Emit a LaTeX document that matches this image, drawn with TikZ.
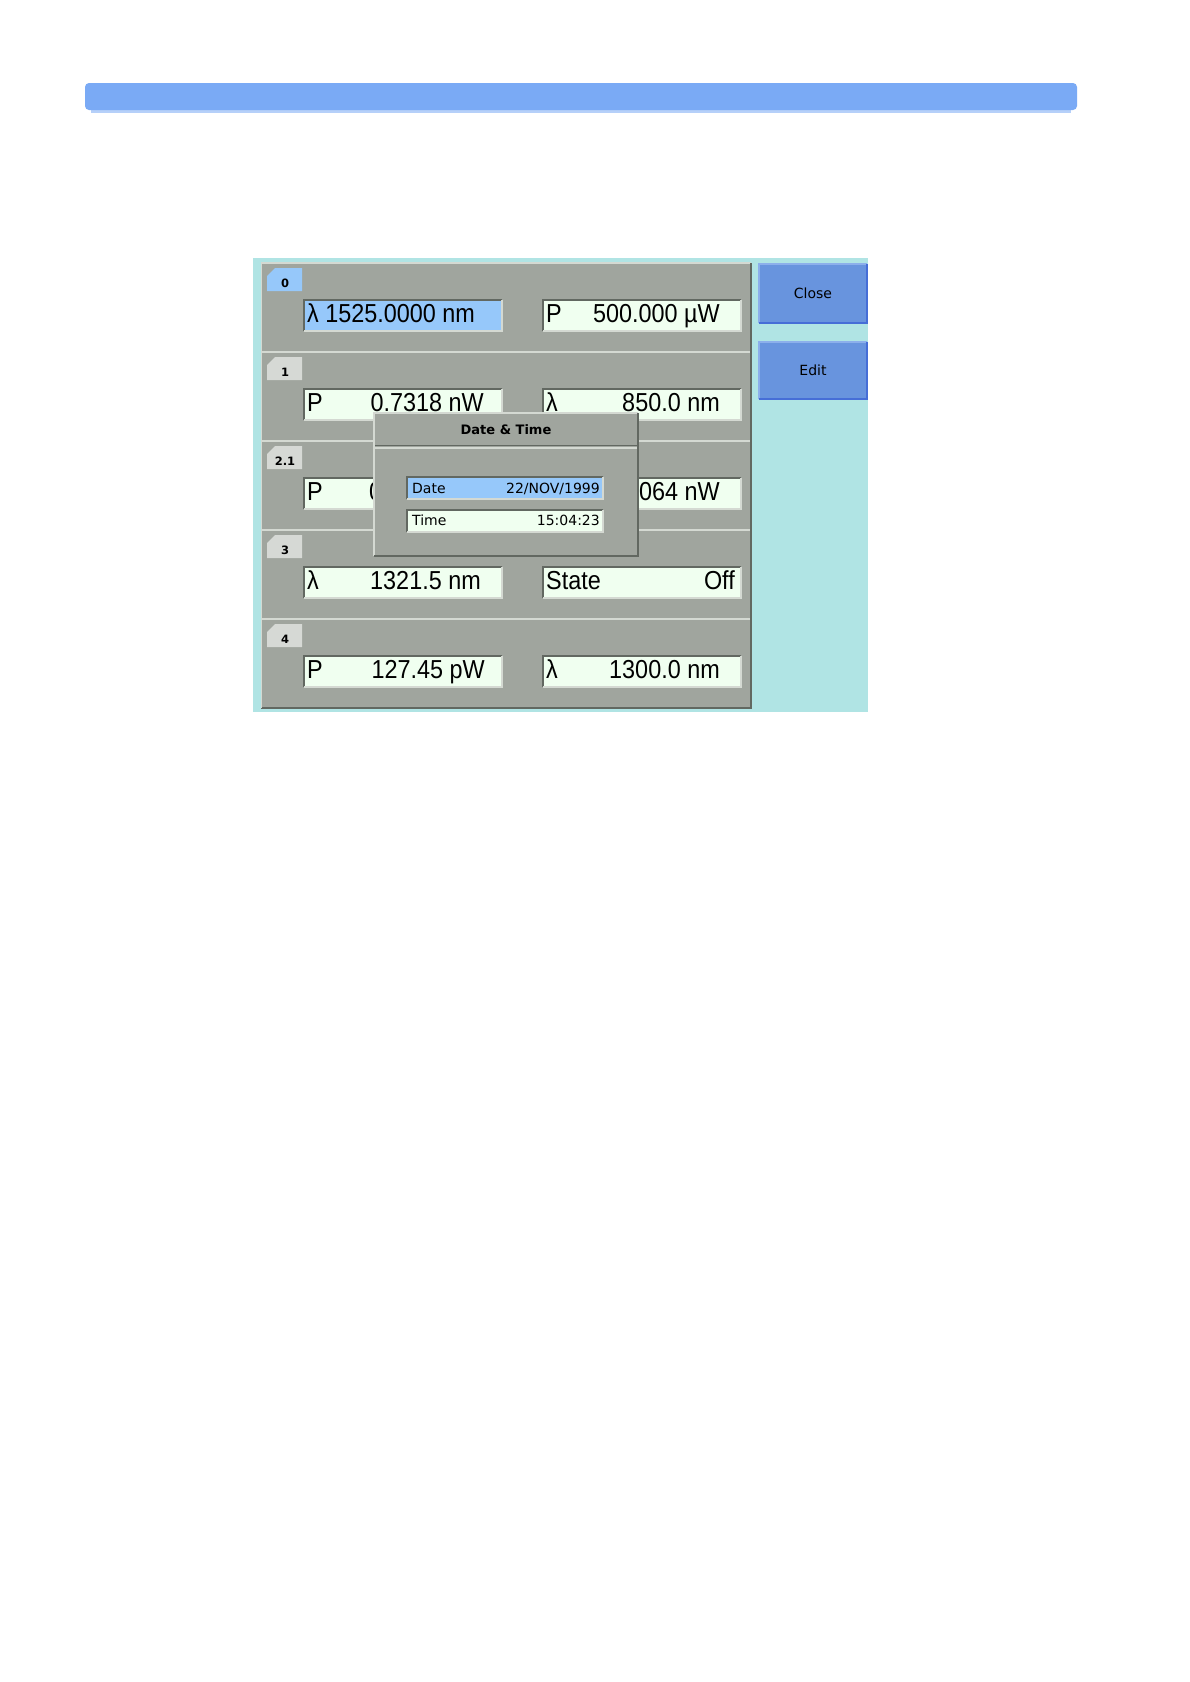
\documentclass[tikz,border=0pt]{standalone}
\usepackage{fontspec}
\setmainfont{Liberation Sans}
\newfontfamily\bigf[FakeStretch=0.9]{Liberation Sans}
\newfontfamily\uif{DejaVu Sans}
\definecolor{topbar}{RGB}{122,170,245}
\definecolor{cyanbg}{RGB}{176,228,228}
\definecolor{panelgray}{RGB}{160,165,158}
\definecolor{fieldfill}{RGB}{240,255,240}
\definecolor{hilite}{RGB}{150,200,250}
\definecolor{tabgray}{RGB}{214,217,213}
\definecolor{btnfill}{RGB}{104,148,222}
\definecolor{btnedge}{RGB}{70,110,215}
\definecolor{btnlight}{RGB}{140,175,235}
\definecolor{darkline}{RGB}{98,104,97}
\definecolor{lightline}{RGB}{212,217,210}
\tikzset{
  box/.style={inner sep=0pt, outer sep=0pt, anchor=north west},
  bevdark/.style={darkline, line width=1.6pt},
  bevlight/.style={lightline, line width=1.6pt},
  bigtxt/.style={inner sep=0pt, font=\bigf\fontsize{26}{26}\selectfont},
  tabtxt/.style={inner sep=0pt, font=\uif\bfseries\fontsize{11.5}{11.5}\selectfont},
  smalltxt/.style={inner sep=0pt, font=\uif\fontsize{14}{14}\selectfont},
  titletxt/.style={inner sep=0pt, font=\uif\bfseries\fontsize{13}{13}\selectfont},
  btntxt/.style={inner sep=0pt, font=\uif\fontsize{14}{14}\selectfont},
}
% field: name, x, y, width, height, fill
\newcommand\mkfield[6]{%
  \node[box, fill=#6, minimum width=#4pt, minimum height=#5pt] (#1) at (#2,#3) {};
  \draw[bevdark] (#1.south west) -- (#1.north west) -- (#1.north east);
  \draw[bevlight] (#1.north east) -- (#1.south east) -- (#1.south west);
}
% row band: name, top y, tab fill
\newcommand\mkrow[3]{%
  \node[box, fill=panelgray, minimum width=490pt, minimum height=89pt] (#1) at (261,#2) {};
  \draw[lightline, line width=1.5pt] (#1.north west) -- (#1.north east);
  \draw[darkline, line width=1.5pt] (#1.south west) -- (#1.south east);
  \fill[#3] (267,#2+13) -- (275,#2+5) -- (302,#2+5) -- (302,#2+28) -- (267,#2+28) -- cycle;
  \mkfield{#1L}{304}{#2+37}{198}{31}{fieldfill}
  \mkfield{#1R}{543}{#2+37}{198}{31}{fieldfill}
}
\begin{document}
\begin{tikzpicture}[x=1pt,y=-1pt]
\useasboundingbox[fill=white] (0,0) rectangle (1190,1682);
% top bar
\fill[topbar!55] (91,108) rectangle (1071,113);
\node[box, fill=topbar, rounded corners=4pt, minimum width=992pt, minimum height=27pt] (bar) at (85,83) {};
% background
\node[box, fill=cyanbg, minimum width=615pt, minimum height=454pt] (bg) at (253,258) {};
% rows
\mkrow{r0}{263}{hilite}
\mkrow{r1}{352}{tabgray}
\mkrow{r2}{441}{tabgray}
\mkrow{r3}{530}{tabgray}
\mkrow{r4}{619}{tabgray}
% highlighted field of row 0
\mkfield{r0L}{304}{300}{198}{31}{hilite}
% panel border
\draw[darkline, line width=2pt] (r0.north east) -- (r4.south east) -- (r4.south west);
\draw[lightline, line width=1pt] (r0.north west) -- (r4.south west);
% tab labels
\node[tabtxt, anchor=base] (t0) at (285,287) {0};
\node[tabtxt, anchor=base] (t1) at (285,376) {1};
\node[tabtxt, anchor=base] (t2) at (285,465) {2.1};
\node[tabtxt, anchor=base] (t3) at (285,554) {3};
\node[tabtxt, anchor=base] (t4) at (285,643) {4};
% row 0
\node[bigtxt, anchor=base west] (v0L) at (307,322) {λ 1525.0000 nm};
\node[bigtxt, anchor=base west] (l0R) at (546,322) {P};
\node[bigtxt, anchor=base east] (v0R) at (720,322) {500.000 µW};
% row 1
\node[bigtxt, anchor=base west] (l1L) at (307,411) {P};
\node[bigtxt, anchor=base east] (v1L) at (484,411) {0.7318 nW};
\node[bigtxt, anchor=base west] (l1R) at (546,411) {λ};
\node[bigtxt, anchor=base east] (v1R) at (720,411) {850.0 nm};
% row 2.1
\node[bigtxt, anchor=base west] (l2L) at (307,500) {P};
\node[bigtxt, anchor=base west] (v2L) at (369,500) {0};
\node[bigtxt, anchor=base east] (v2R) at (720,500) {064 nW};
% row 3
\node[bigtxt, anchor=base west] (l3L) at (307,589) {λ};
\node[bigtxt, anchor=base east] (v3L) at (481,589) {1321.5 nm};
\node[bigtxt, anchor=base west] (l3R) at (546,589) {State};
\node[bigtxt, anchor=base east] (v3R) at (735,589) {Off};
% row 4
\node[bigtxt, anchor=base west] (l4L) at (307,678) {P};
\node[bigtxt, anchor=base east] (v4L) at (485,678) {127.45 pW};
\node[bigtxt, anchor=base west] (l4R) at (546,678) {λ};
\node[bigtxt, anchor=base east] (v4R) at (720,678) {1300.0 nm};
% buttons
\node[box, fill=btnfill, minimum width=108pt, minimum height=59pt] (close) at (759,264) {};
\draw[btnlight, line width=1.5pt] (close.south west) -- (close.north west) -- (close.north east);
\draw[btnedge, line width=2pt] (close.north east) -- (close.south east) -- (close.south west);
\node[btntxt, anchor=base] (closet) at (813,298) {Close};
\node[box, fill=btnfill, minimum width=108pt, minimum height=57pt] (edit) at (759,342) {};
\draw[btnlight, line width=1.5pt] (edit.south west) -- (edit.north west) -- (edit.north east);
\draw[btnedge, line width=2pt] (edit.north east) -- (edit.south east) -- (edit.south west);
\node[btntxt, anchor=base] (editt) at (813,375) {Edit};
% dialog
\node[box, fill=panelgray, minimum width=264pt, minimum height=143pt] (dlg) at (374,413) {};
\draw[lightline, line width=1.5pt] (dlg.south west) -- (dlg.north west) -- (dlg.north east);
\draw[darkline, line width=1.5pt] (dlg.north east) -- (dlg.south east) -- (dlg.south west);
\draw[darkline, line width=1.5pt] (375,445.5) -- (637,445.5);
\draw[lightline, line width=1.5pt] (375,448) -- (637,448);
\node[titletxt, anchor=base] (dlgt) at (506,434) {Date \& Time};
\mkfield{datef}{407}{477}{196}{22}{hilite}
\mkfield{timef}{407}{510}{196}{22}{fieldfill}
\node[smalltxt, anchor=base west] (datel) at (412,493) {Date};
\node[smalltxt, anchor=base east] (datev) at (600,493) {22/NOV/1999};
\node[smalltxt, anchor=base west] (timel) at (412,525) {Time};
\node[smalltxt, anchor=base east] (timev) at (600,525) {15:04:23};
\end{tikzpicture}
\end{document}
